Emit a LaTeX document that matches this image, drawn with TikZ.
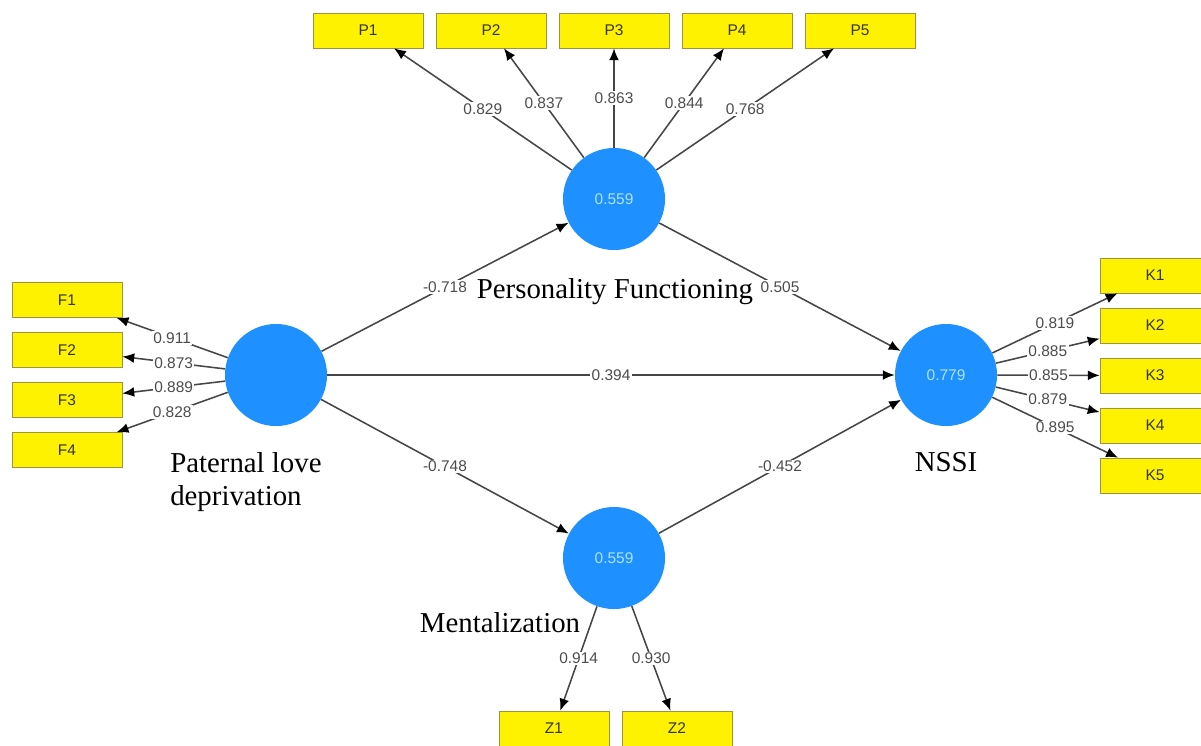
\documentclass[tikz,border=0pt]{standalone}
\usepackage{fontspec}
\setmainfont{Liberation Serif}
\setsansfont{Liberation Sans}
\usetikzlibrary{arrows.meta}
\definecolor{plsblue}{RGB}{30,144,255}
\definecolor{plstext}{RGB}{175,228,248}
\definecolor{plsline}{RGB}{70,70,70}

\begin{document}
\begin{tikzpicture}[x=0.025cm, y=-0.025cm, >={Latex[length=8.5pt,width=7pt,color=black]},
	lv/.style={circle, fill=plsblue, minimum size=2.55cm, inner sep=0pt,
		font=\sffamily\fontsize{11}{13}\selectfont, text=plstext},
	ind/.style={rectangle, fill=yellow, draw=yellow!55!black, line width=0.4pt,
		minimum width=2.75cm, minimum height=0.875cm, inner sep=0pt,
		font=\sffamily\fontsize{11}{13}\selectfont, text=black!80},
	link/.style={->, draw=plsline, line width=1.1pt},
	wt/.style={fill=white, inner sep=1pt, font=\sffamily\fontsize{11}{13}\selectfont, text=black!70},
	lvname/.style={font=\fontsize{20.5}{24}\selectfont, inner sep=0pt}]
	\clip (0,0) rectangle (1201,745);
	\fill[white] (0,0) rectangle (1201,745);
	% latent variables
	\node[lv] (pld) at (276,375) {};
	\node[lv] (pf) at (614,199) {0.559};
	\node[lv] (men) at (614,558) {0.559};
	\node[lv] (nssi) at (946,375) {0.779};
	% indicators
	\foreach \i/\x in {1/368,2/491,3/614,4/737,5/860}
		\node[ind] (p\i) at (\x,30.5) {P\i};
	\foreach \i/\y in {1/300,2/350,3/400,4/450}
		\node[ind] (f\i) at (67,\y) {F\i};
	\foreach \i/\y in {1/275.5,2/325.5,3/375.5,4/425.5,5/475.5}
		\node[ind] (k\i) at (1155,\y) {K\i};
	\node[ind] (z1) at (554,728.5) {Z1};
	\node[ind] (z2) at (677,728.5) {Z2};
	% outer loadings
	\foreach \i/\v in {1/0.829,2/0.837,3/0.863,4/0.844,5/0.768}
		\draw[link] (pf) -- (p\i) node[wt, midway]{\v};
	\foreach \i/\v in {1/0.911,2/0.873,3/0.889,4/0.828}
		\draw[link] (pld) -- (f\i) node[wt, midway]{\v};
	\foreach \i/\v in {1/0.819,2/0.885,3/0.855,4/0.879,5/0.895}
		\draw[link] (nssi) -- (k\i) node[wt, midway]{\v};
	\draw[link] (men) -- (z1) node[wt, midway]{0.914};
	\draw[link] (men) -- (z2) node[wt, midway]{0.930};
	% path coefficients
	\draw[link] (pld) -- (pf) node[wt, midway]{-0.718};
	\draw[link] (pf) -- (nssi) node[wt, midway]{0.505};
	\draw[link] (pld) -- (nssi) node[wt, midway]{0.394};
	\draw[link] (pld) -- (men) node[wt, midway]{-0.748};
	\draw[link] (men) -- (nssi) node[wt, midway]{-0.452};
	% names
	\node[lvname] (pflab) at (615,292) {Personality Functioning};
	\node[lvname, anchor=west, align=left] (pldlab) at (170,482) {Paternal love\\deprivation};
	\node[lvname] (nssilab) at (946,462) {NSSI};
	\node[lvname] (menlab) at (500,623) {Mentalization};
\end{tikzpicture}
\end{document}
